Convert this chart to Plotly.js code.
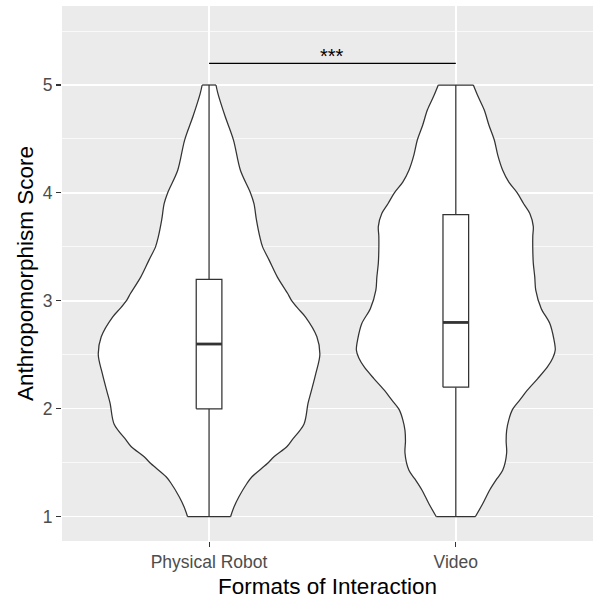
<!DOCTYPE html>
<html>
<head>
<meta charset="utf-8">
<script src="https://cdn.plot.ly/plotly-3.0.1.min.js"></script>
<style>html,body{margin:0;padding:0;background:#fff;}#chart{width:593px;height:599px;}</style>
</head>
<body>
<div id="chart"></div>
<script>
// Categories
const categories = ["Physical Robot", "Video"];
const catPos = [1, 2];

// Violin outlines: score levels and half-widths (x-axis units)
const robotScore = [1.00, 1.09, 1.185, 1.31, 1.37, 1.49, 1.555, 1.65, 1.71, 1.86, 2.05, 2.17, 2.33, 2.50, 2.667, 2.85, 2.93, 3.005, 3.07, 3.22, 3.38, 3.50, 3.59, 3.75, 3.90, 4.00, 4.21, 4.49, 4.71, 4.92, 5.00];
const robotHalfWidth = [0.087, 0.101, 0.121, 0.154, 0.174, 0.235, 0.263, 0.316, 0.336, 0.385, 0.401, 0.415, 0.433, 0.449, 0.437, 0.391, 0.360, 0.334, 0.318, 0.277, 0.243, 0.217, 0.206, 0.192, 0.182, 0.168, 0.127, 0.099, 0.065, 0.036, 0.028];

const videoScore = [1.00, 1.12, 1.25, 1.35, 1.43, 1.59, 1.70, 1.80, 1.90, 1.99, 2.08, 2.17, 2.28, 2.39, 2.47, 2.545, 2.65, 2.79, 2.93, 3.10, 3.22, 3.35, 3.47, 3.60, 3.69, 3.81, 3.90, 4.00, 4.10, 4.21, 4.35, 4.49, 4.63, 4.77, 4.90, 5.00];
const videoHalfWidth = [0.079, 0.109, 0.138, 0.166, 0.190, 0.206, 0.204, 0.206, 0.215, 0.229, 0.259, 0.289, 0.332, 0.372, 0.393, 0.403, 0.397, 0.381, 0.346, 0.324, 0.320, 0.314, 0.312, 0.312, 0.314, 0.300, 0.275, 0.249, 0.215, 0.190, 0.170, 0.156, 0.134, 0.115, 0.089, 0.071];

// Box plot statistics
const boxMin = [1, 1];
const boxQ1 = [2.0, 2.2];
const boxMedian = [2.6, 2.8];
const boxQ3 = [3.2, 3.8];
const boxMax = [5, 5];

// Significance
const sigLabel = "***";
const sigLevel = 5.2;

const outline = "#333333";
const boxHalf = 0.052;
const lw = 1.25;

const traces = [];
function addViolin(center, ys, ws) {
  const n = ys.length;
  const left = ys.map((y, i) => center - ws[i]);
  const right = ys.map((y, i) => center + ws[i]);
  traces.push({
    type: "scatter", mode: "lines", x: left, y: ys,
    line: {color: outline, width: lw, shape: "spline", smoothing: 0.9},
    hoverinfo: "skip", showlegend: false
  });
  traces.push({
    type: "scatter", mode: "lines", x: right, y: ys, fill: "tonextx", fillcolor: "#ffffff",
    line: {color: outline, width: lw, shape: "spline", smoothing: 0.9},
    hoverinfo: "skip", showlegend: false
  });
  // flat ends (trimmed at data range)
  traces.push({
    type: "scatter", mode: "lines",
    x: [left[0], right[0], null, left[n - 1], right[n - 1]],
    y: [ys[0], ys[0], null, ys[n - 1], ys[n - 1]],
    line: {color: outline, width: lw}, hoverinfo: "skip", showlegend: false
  });
}
addViolin(catPos[0], robotScore, robotHalfWidth);
addViolin(catPos[1], videoScore, videoHalfWidth);

catPos.forEach((c, i) => {
  // whiskers
  traces.push({
    type: "scatter", mode: "lines",
    x: [c, c, null, c, c], y: [boxMin[i], boxQ1[i], null, boxQ3[i], boxMax[i]],
    line: {color: outline, width: lw}, hoverinfo: "skip", showlegend: false
  });
  // box
  traces.push({
    type: "scatter", mode: "lines",
    x: [c - boxHalf, c + boxHalf, c + boxHalf, c - boxHalf, c - boxHalf],
    y: [boxQ1[i], boxQ1[i], boxQ3[i], boxQ3[i], boxQ1[i]],
    fill: "toself", fillcolor: "#ffffff",
    line: {color: outline, width: lw}, hoverinfo: "skip", showlegend: false
  });
  // median
  traces.push({
    type: "scatter", mode: "lines", x: [c - boxHalf, c + boxHalf], y: [boxMedian[i], boxMedian[i]],
    line: {color: outline, width: 2.8}, hoverinfo: "skip", showlegend: false
  });
});
traces.push({
  type: "scatter", mode: "lines", x: [catPos[0], catPos[1]], y: [sigLevel, sigLevel],
  line: {color: "#000000", width: 1.3}, hoverinfo: "skip", showlegend: false
});

const layout = {
  width: 593, height: 599,
  margin: {l: 62, r: 0, t: 6, b: 58},
  paper_bgcolor: "#ffffff", plot_bgcolor: "#EBEBEB",
  font: {family: "Liberation Sans, Arial, sans-serif"},
  showlegend: false,
  xaxis: {
    range: [0.404, 2.556], tickvals: catPos, ticktext: categories,
    showgrid: true, gridcolor: "#ffffff", gridwidth: 1.4, zeroline: false,
    ticks: "outside", ticklen: 5, tickwidth: 1.1, tickcolor: "#333333",
    tickfont: {size: 17.5, color: "#4D4D4D"},
    showline: false,
    title: {text: "Formats of Interaction", font: {size: 22.5, color: "#000000"}, standoff: 7}
  },
  yaxis: {
    range: [0.775, 5.732], tickvals: [1, 2, 3, 4, 5],
    showgrid: true, gridcolor: "#ffffff", gridwidth: 1.4, zeroline: false,
    minor: {tickvals: [1.5, 2.5, 3.5, 4.5, 5.5], showgrid: true, gridcolor: "#ffffff", gridwidth: 0.7, ticks: ""},
    ticks: "outside", ticklen: 5, tickwidth: 1.1, tickcolor: "#333333",
    tickfont: {size: 17.5, color: "#4D4D4D"},
    showline: false,
    title: {text: "Anthropomorphism Score", font: {size: 22.5, color: "#000000"}, standoff: 2}
  },
  annotations: [{
    x: (catPos[0] + catPos[1]) / 2, y: 5.265, xref: "x", yref: "y",
    text: sigLabel, showarrow: false, yanchor: "middle",
    font: {size: 20, color: "#000000"}
  }]
};

Plotly.newPlot("chart", traces, layout, {displayModeBar: false, staticPlot: true});
</script>
</body>
</html>
